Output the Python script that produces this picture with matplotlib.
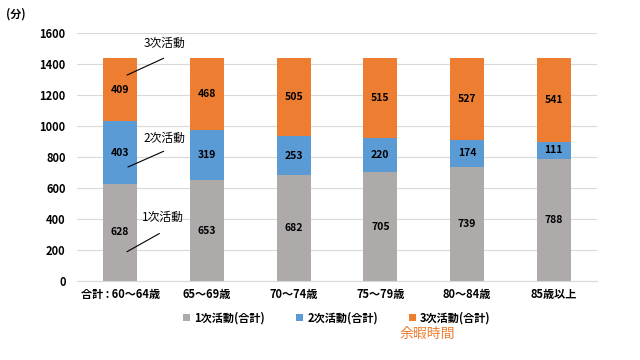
import numpy as np
import matplotlib
matplotlib.use("Agg")
from matplotlib import pyplot as plt

plt.rcParams['font.family'] = ['Noto Sans CJK JP', 'DejaVu Sans']

# Data (minutes per day)
categories = ['合計 : 60～64歳', '65～69歳', '70～74歳', '75～79歳', '80～84歳', '85歳以上']
primary = [628, 653, 682, 705, 739, 788]
secondary = [403, 319, 253, 220, 174, 111]
tertiary = [409, 468, 505, 515, 527, 541]
series_names = ['1次活動(合計)', '2次活動(合計)', '3次活動(合計)']
colors = ['#AEAAAA', '#5B9BD5', '#ED7D31']

fig = plt.figure(figsize=(6.4, 3.6), dpi=100)
ax = fig.add_axes([0.12, 0.219, 0.813, 0.689])

x = np.arange(len(categories))
width = 0.39
bottom = np.zeros(len(categories))
for vals, name, c in zip([primary, secondary, tertiary], series_names, colors):
    ax.bar(x, vals, width, bottom=bottom, color=c, label=name, zorder=2)
    for xi, b, v in zip(x, bottom, vals):
        ax.text(xi, b + v / 2, str(v), ha='center', va='center',
                fontsize=7.5, fontweight='bold', color='black', zorder=3)
    bottom += np.array(vals)

ax.set_xlim(-0.5, len(categories) - 0.5)
ax.set_ylim(0, 1600)
ax.set_yticks(np.arange(0, 1601, 200))
ax.yaxis.grid(True, color='#D9D9D9', linewidth=0.8, zorder=0)
ax.set_axisbelow(True)
for s in ['top', 'right', 'left']:
    ax.spines[s].set_visible(False)
ax.spines['bottom'].set_color('#D9D9D9')
ax.tick_params(axis='both', length=0, labelsize=8)
ax.tick_params(axis='y', pad=8)
ax.tick_params(axis='x', pad=5)
ax.set_xticks(x)
ax.set_xticklabels(categories, fontweight='bold')
for lbl in ax.get_yticklabels():
    lbl.set_fontweight('bold')

# annotations
ax.annotate('', xy=(0.05, 1322), xytext=(0.53, 1445),
            arrowprops=dict(arrowstyle='-', color='black', lw=0.8))
ax.text(0.51, 1535, '3次活動', ha='center', va='center', fontsize=8.5)
ax.annotate('', xy=(0.06, 729), xytext=(0.53, 845),
            arrowprops=dict(arrowstyle='-', color='black', lw=0.8))
ax.text(0.51, 923, '2次活動', ha='center', va='center', fontsize=8.5)
ax.annotate('', xy=(0.05, 181), xytext=(0.48, 316),
            arrowprops=dict(arrowstyle='-', color='black', lw=0.8))
ax.text(0.49, 413, '1次活動', ha='center', va='center', fontsize=8.5)

fig.text(0.01, 0.96, '(分)', fontsize=8, fontweight='bold', va='center')

ax.legend(loc='center', bbox_to_anchor=(0.5, -0.15), ncol=3, frameon=False,
          prop={'weight': 'bold', 'size': 8}, handlelength=0.6,
          handleheight=0.6, columnspacing=2.8, handletextpad=0.4)
fig.text(0.667, 0.072, '余暇時間', color='#ED7D31', fontsize=10, ha='center', va='center')

fig.savefig('out.png', dpi=100)
